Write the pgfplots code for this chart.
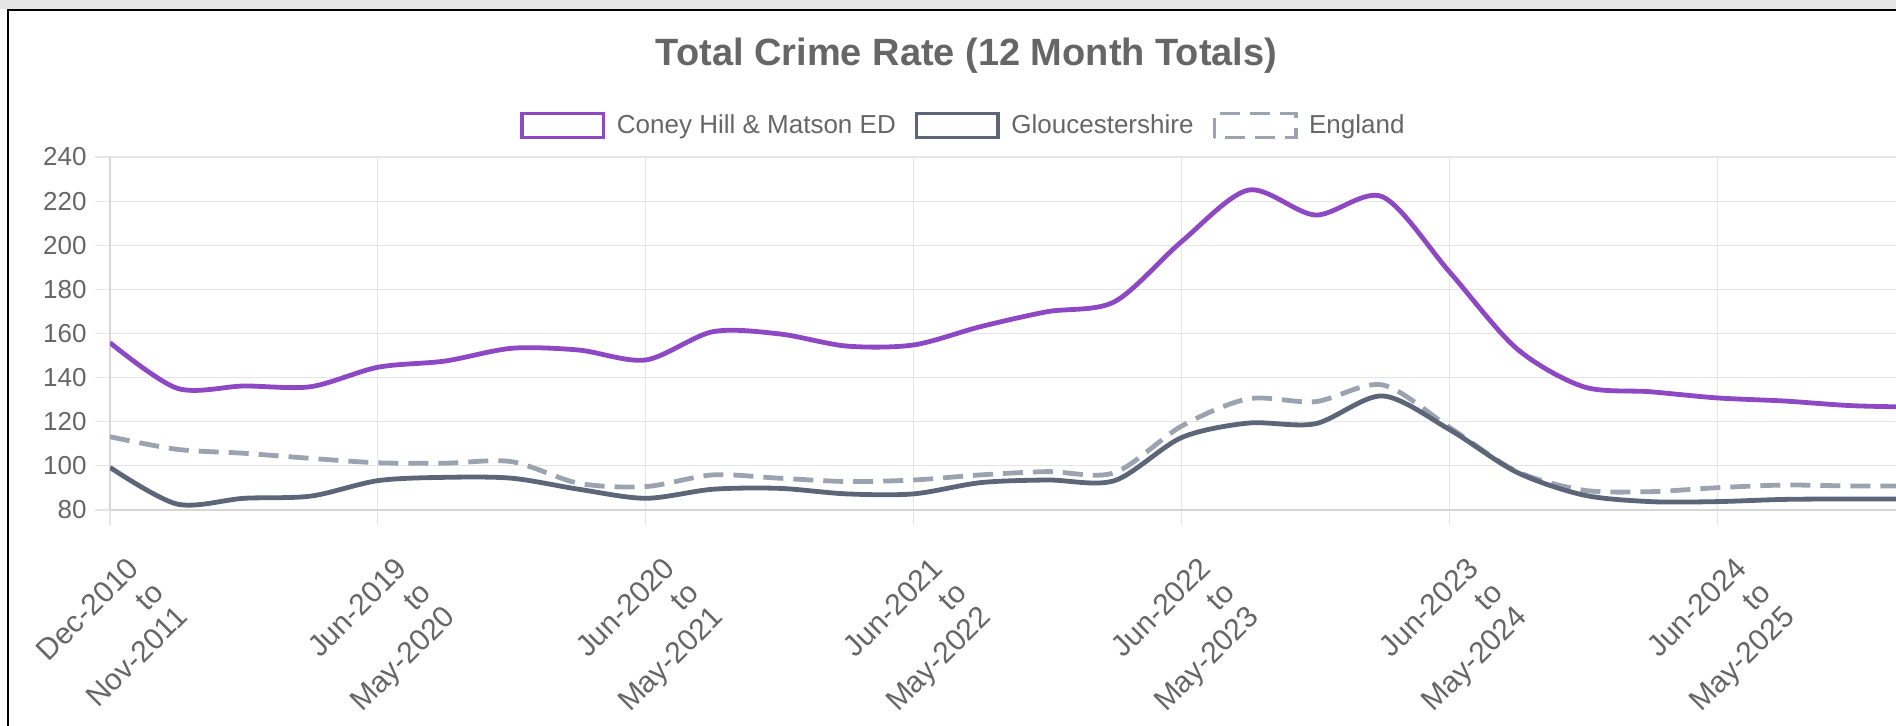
\documentclass[border=0pt]{standalone}
\usepackage{fontspec}
\setmainfont{Liberation Sans}
\usepackage{pgfplots}
\usepackage{pgfplotstable}
\pgfplotsset{compat=1.18}

\definecolor{coney}{RGB}{142,72,196}
\definecolor{glos}{RGB}{92,102,120}
\definecolor{eng}{RGB}{156,163,176}
\definecolor{txt}{RGB}{102,102,102}
\definecolor{gridc}{RGB}{229,229,229}
\definecolor{axisc}{RGB}{214,214,214}

% 12 month totals, one row per period
\pgfplotstableread{
idx coney glos eng
0  155.8  99.3 113.2
1  135.2  82.7 107.5
2  136.2  85.3 105.7
3  135.9  86.3 103.4
4  144.7  93.3 101.4
5  147.5  94.8 101.2
6  153.3  94.4 101.9
7  152.5  89.4  92.1
8  148.0  85.3  90.6
9  160.8  89.4  95.9
10 159.8  89.8  94.4
11 154.3  87.3  92.9
12 154.8  87.3  93.6
13 163.1  92.4  95.9
14 169.9  93.6  97.4
15 174.4  93.3  96.9
16 201.6 112.8 118.0
17 225.0 119.4 130.4
18 213.7 119.1 129.1
19 222.0 131.7 136.7
20 188.0 116.5 117.5
21 153.3  97.2  97.6
22 135.9  86.8  89.0
23 133.6  83.8  88.3
24 130.8  83.8  90.1
25 129.4  84.8  91.3
26 127.3  85.0  90.9
27 126.6  85.0  90.9
}\crimedata

\begin{document}
\begin{tikzpicture}
\path[use as bounding box] (0,0) rectangle (948pt,363pt);
% screenshot frame
\fill[black!10] (0,358.5pt) rectangle (948pt,363pt);
\draw[black, line width=1pt] (4pt,0) -- (4pt,358pt) -- (948pt,358pt);

\begin{axis}[
    at={(55pt,108pt)}, anchor=south west,
    scale only axis, width=893pt, height=176.5pt,
    xmin=0, xmax=26.67, ymin=80, ymax=240,
    clip=true,
    axis x line*=bottom, axis y line*=left,
    axis line style={-, draw=axisc, line width=1pt},
    grid=major,
    major grid style={draw=gridc, line width=0.6pt},
    tick align=outside, major tick length=7.5pt,
    tick style={draw=gridc, line width=0.6pt},
    ytick={80,100,...,240},
    xtick={0,4,...,24},
    xticklabels={{Dec-2010\\to\\Nov-2011},{Jun-2019\\to\\May-2020},
      {Jun-2020\\to\\May-2021},{Jun-2021\\to\\May-2022},
      {Jun-2022\\to\\May-2023},{Jun-2023\\to\\May-2024},
      {Jun-2024\\to\\May-2025}},
    /pgf/number format/assume math mode=true,
    yticklabel style={font=\fontsize{13}{15}\selectfont, text=txt,
      inner sep=0pt, xshift=-4pt},
    xticklabel style={xshift=8pt, yshift=-15pt, rotate=45,
      anchor=north east, align=right, inner sep=0pt,
      font=\fontsize{15}{17}\selectfont, text=txt},
    title={Total Crime Rate (12 Month Totals)},
    title style={at={(0.4796,1.252)}, anchor=center,
      font=\fontsize{19}{21}\selectfont\bfseries, text=txt},
    legend columns=3,
    reverse legend,
    legend style={at={(0.4773,1.0892)}, anchor=center, draw=none, fill=none,
      inner sep=0pt, font=\fontsize{13}{15}\selectfont, text=txt,
      nodes={inner sep=0pt},
      /tikz/every even column/.append style={column sep=9.5pt}},
    legend image code/.code={
      \draw[#1, line width=1.8pt, fill=white] (0pt,-6pt) rectangle (40.7pt,6pt);
      \path (46.2pt,0pt);
    },
    every axis plot/.append style={line width=2.4pt, smooth, tension=0.5},
]
\addplot[eng, dash pattern=on 10pt off 5pt] table[x=idx, y=eng] {\crimedata};
\addlegendentry{England}
\addplot[glos] table[x=idx, y=glos] {\crimedata};
\addlegendentry{Gloucestershire}
\addplot[coney] table[x=idx, y=coney] {\crimedata};
\addlegendentry{Coney Hill \& Matson ED}
\end{axis}
\end{tikzpicture}
\end{document}
